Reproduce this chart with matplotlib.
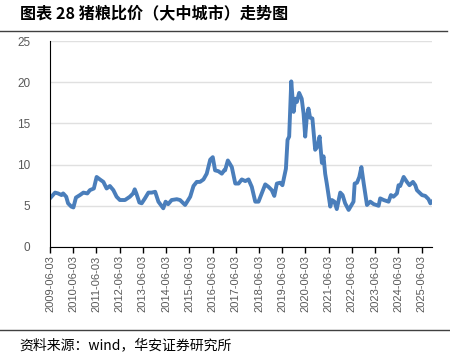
import matplotlib
matplotlib.use("Agg")
from matplotlib import pyplot as plt
from matplotlib.lines import Line2D

# 猪粮比价（大中城市），按年份小数读取
years = [2009.42, 2009.64, 2009.77, 2009.92, 2009.99, 2010.12, 2010.2, 2010.34, 2010.43, 2010.54,
         2010.71, 2010.86, 2011.03, 2011.14, 2011.31, 2011.43, 2011.57, 2011.72, 2011.86, 2012.0,
         2012.15, 2012.29, 2012.43, 2012.65, 2012.86, 2013.0, 2013.07, 2013.14, 2013.27, 2013.37,
         2013.51, 2013.66, 2013.8, 2013.95, 2014.09, 2014.3, 2014.4, 2014.51, 2014.66, 2014.88,
         2015.02, 2015.24, 2015.46, 2015.6, 2015.74, 2015.88, 2016.03, 2016.17, 2016.32, 2016.43,
         2016.53, 2016.67, 2016.82, 2016.92, 2016.96, 2017.08, 2017.25, 2017.4, 2017.54, 2017.68,
         2017.83, 2017.97, 2018.11, 2018.26, 2018.4, 2018.54, 2018.69, 2018.83, 2018.97, 2019.08,
         2019.19, 2019.33, 2019.43, 2019.58, 2019.65, 2019.72, 2019.81, 2019.91, 2019.98, 2020.05,
         2020.15, 2020.26, 2020.34, 2020.41, 2020.48, 2020.55, 2020.62, 2020.72, 2020.84, 2020.94,
         2021.03, 2021.13, 2021.2, 2021.27, 2021.34, 2021.49, 2021.56, 2021.67, 2021.77, 2021.92,
         2022.02, 2022.13, 2022.28, 2022.49, 2022.54, 2022.64, 2022.74, 2022.83, 2022.93, 2023.07,
         2023.21, 2023.36, 2023.57, 2023.64, 2023.79, 2024.0, 2024.1, 2024.21, 2024.36, 2024.43,
         2024.5, 2024.65, 2024.79, 2024.9, 2025.05, 2025.15, 2025.22, 2025.44, 2025.58, 2025.72,
         2025.8, 2025.9]
ratio = [5.9, 6.6, 6.5, 6.3, 6.5, 6.1, 5.3, 4.9, 4.8, 6.0,
         6.3, 6.6, 6.5, 6.9, 7.1, 8.5, 8.2, 7.9, 7.1, 7.4,
         6.9, 6.1, 5.7, 5.7, 6.1, 6.5, 7.0, 6.5, 5.4, 5.3,
         5.9, 6.6, 6.6, 6.7, 5.5, 4.7, 5.5, 5.2, 5.7, 5.8,
         5.7, 5.1, 6.1, 7.4, 7.9, 7.9, 8.2, 8.9, 10.6, 10.9,
         9.3, 9.2, 8.9, 9.3, 9.3, 10.5, 9.7, 7.7, 7.7, 8.2,
         8.0, 8.2, 7.3, 5.5, 5.5, 6.5, 7.6, 7.3, 6.9, 6.2,
         7.7, 7.8, 7.5, 9.5, 13.0, 13.4, 20.1, 16.4, 18.0, 17.6,
         18.7, 18.0, 16.2, 13.4, 15.8, 16.8, 15.7, 15.6, 11.8, 12.2,
         13.4, 10.2, 11.0, 8.9, 7.7, 4.9, 5.7, 5.5, 4.6, 6.6,
         6.3, 5.3, 4.5, 5.5, 7.7, 7.8, 8.5, 9.7, 7.7, 5.1,
         5.5, 5.2, 5.0, 5.9, 5.7, 5.5, 6.3, 6.1, 6.5, 7.5,
         7.4, 8.5, 7.9, 7.5, 7.9, 7.5, 6.9, 6.3, 6.2, 5.8,
         5.3, 5.6]

tick_years = list(range(2009, 2026))
tick_labels = [f"{y}-06-03" for y in tick_years]

fig = plt.figure(figsize=(4.5, 3.63), dpi=100)
ax = fig.add_axes([0.111, 0.3196, 0.849, 0.5674])

ax.plot(years, ratio, color="#4a7ebb", linewidth=2.8, solid_joinstyle="round")

ax.set_ylim(0, 25)
ax.set_yticks([0, 5, 10, 15, 20, 25])
ax.set_xlim(2009.42, 2025.87)
ax.set_xticks([y + 0.42 for y in tick_years])
ax.set_xticklabels(tick_labels, rotation=90, fontsize=8, color="#595959", family="Liberation Sans")
for lab in ax.get_yticklabels():
    lab.set_fontsize(8.5)
    lab.set_color("#595959")
    lab.set_family("Liberation Sans")

ax.grid(axis="y", color="#e0e0e0", linewidth=1)
ax.set_axisbelow(True)
ax.spines["top"].set_visible(False)
ax.spines["right"].set_visible(False)
ax.spines["left"].set_color("black")
ax.spines["bottom"].set_color("black")
ax.tick_params(axis="y", length=0, pad=14)
ax.tick_params(axis="x", length=4, width=1, direction="out", pad=2)

fig.text(0.044, 0.962, "图表 28 猪粮比价（大中城市）走势图", fontsize=11.6, fontweight="bold",
         family=["Noto Sans CJK SC", "DejaVu Sans"], va="center", ha="left")
fig.add_artist(Line2D([0, 0.993], [1 - 31 / 363, 1 - 31 / 363], color="#404040", linewidth=1))
fig.add_artist(Line2D([0, 1], [1 - 330 / 363, 1 - 330 / 363], color="#404040", linewidth=1))
fig.text(0.044, 1 - 345 / 363, "资料来源：wind，华安证券研究所", fontsize=10,
         family=["Noto Sans CJK SC", "DejaVu Sans"], va="center", ha="left")

fig.savefig("out.png", dpi=100)
